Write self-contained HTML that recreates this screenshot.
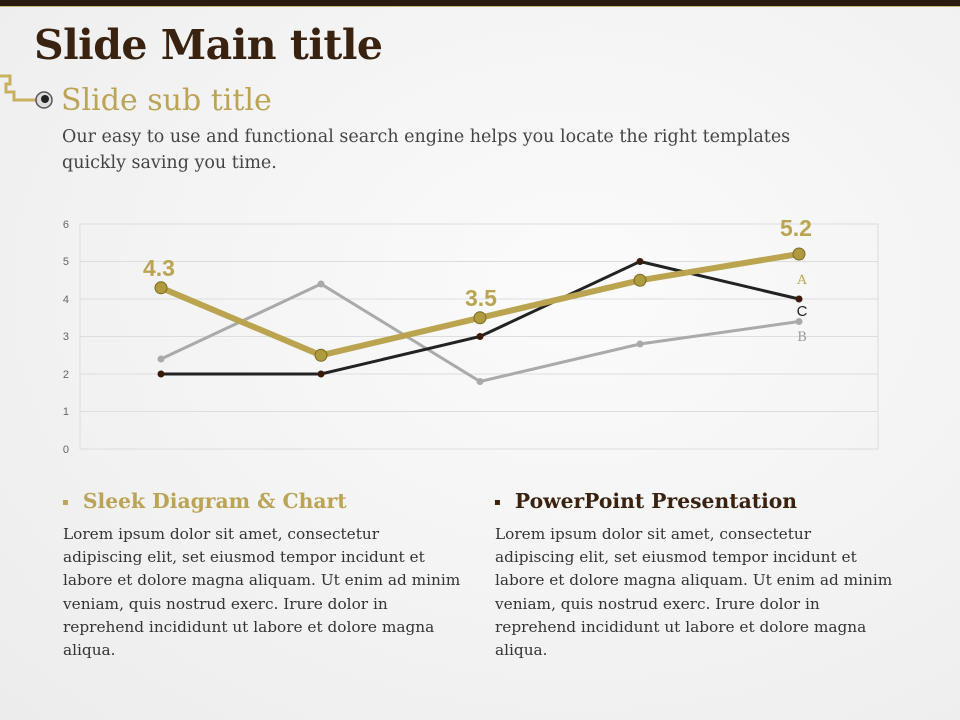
<!DOCTYPE html>
<html><head><meta charset="utf-8"><style>
body{margin:0;width:960px;height:720px;overflow:hidden;background:radial-gradient(ellipse at 60% 40%,#fbfbfb,#ececec);font-family:"DejaVu Serif","Liberation Serif",serif;position:relative}
.top{position:absolute;left:0;top:0;width:960px;height:6px;background:#2a1a10;border-bottom:1px solid #c8b878}
.t{position:absolute;left:34px;top:21px;font-size:41px;font-weight:bold;color:#3a2210;letter-spacing:-0.5px;white-space:nowrap}
.st{position:absolute;left:61px;top:83px;font-size:30px;color:#bba455;white-space:nowrap}
.d{position:absolute;left:62px;top:124px;font-size:17.5px;line-height:26px;color:#444;width:730px}
.h{position:absolute;top:489px;font-size:20.3px;font-weight:bold;white-space:nowrap}
.p{position:absolute;top:523px;font-size:15.3px;line-height:23.2px;color:#333;width:400px}
</style></head><body>
<div class="top"></div>
<div class="t">Slide Main title</div>
<svg style="position:absolute;left:0;top:70px" width="60" height="40"><path d="M0 6H10V14H6V22H14V30H36" fill="none" stroke="#c8b060" stroke-width="3"/><circle cx="44" cy="30" r="8" fill="#ddd" stroke="#555" stroke-width="1.5"/><circle cx="45" cy="29" r="4" fill="#222"/></svg>
<div class="st">Slide sub title</div>
<div class="d">Our easy to use and functional search engine helps you locate the right templates quickly saving you time.</div>
<svg style="position:absolute;left:0;top:0" width="960" height="470" font-family="Liberation Sans,sans-serif">
<rect x="80" y="224" width="798" height="225" fill="none" stroke="#ddd"/>
<g stroke="#ddd"><line x1="80" x2="878" y1="261.5" y2="261.5"/><line x1="80" x2="878" y1="299" y2="299"/><line x1="80" x2="878" y1="336.5" y2="336.5"/><line x1="80" x2="878" y1="374" y2="374"/><line x1="80" x2="878" y1="411.5" y2="411.5"/></g>
<g font-size="11" fill="#666" text-anchor="end"><text x="69" y="228">6</text><text x="69" y="265">5</text><text x="69" y="303">4</text><text x="69" y="340">3</text><text x="69" y="378">2</text><text x="69" y="415">1</text><text x="69" y="453">0</text></g>
<polyline points="161,359 321,284 480,381.5 640,344 799,321.5" fill="none" stroke="#aaa" stroke-width="3"/>
<g fill="#aaa"><circle cx="161" cy="359" r="3.5"/><circle cx="321" cy="284" r="3.5"/><circle cx="480" cy="381.5" r="3.5"/><circle cx="640" cy="344" r="3.5"/><circle cx="799" cy="321.5" r="3.5"/></g>
<polyline points="161,374 321,374 480,336.5 640,261.5 799,299" fill="none" stroke="#222" stroke-width="3"/>
<g fill="#3a1a0a"><circle cx="161" cy="374" r="3.5"/><circle cx="321" cy="374" r="3.5"/><circle cx="480" cy="336.5" r="3.5"/><circle cx="640" cy="261.5" r="3.5"/><circle cx="799" cy="299" r="3.5"/></g>
<polyline points="161,287.8 321,355.3 480,317.8 640,280.3 799,254" fill="none" stroke="#bba450" stroke-width="6"/>
<g fill="#b09a40" stroke="#7a6a20"><circle cx="161" cy="287.8" r="6"/><circle cx="321" cy="355.3" r="6"/><circle cx="480" cy="317.8" r="6"/><circle cx="640" cy="280.3" r="6"/><circle cx="799" cy="254" r="6"/></g>
<g font-size="23" font-weight="bold" fill="#bba450" text-anchor="middle"><text x="159" y="276">4.3</text><text x="481" y="306">3.5</text><text x="796" y="236">5.2</text></g>
<g font-family="DejaVu Serif,serif" font-size="13" text-anchor="middle"><text x="802" y="284" fill="#bba450">A</text><text x="802" y="316" fill="#222" font-family="Liberation Sans,sans-serif" font-size="15">C</text><text x="802" y="341" fill="#999">B</text></g>
</svg>
<div class="h" style="left:62px;color:#bba455"><span style="font-size:10px;vertical-align:middle">▪</span>&nbsp; Sleek Diagram &amp; Chart</div>
<div class="h" style="left:494px;color:#3a2210"><span style="font-size:10px;vertical-align:middle">▪</span>&nbsp; PowerPoint Presentation</div>
<div class="p" style="left:63px">Lorem ipsum dolor sit amet, consectetur adipiscing elit, set eiusmod tempor incidunt et labore et dolore magna aliquam. Ut enim ad minim veniam, quis nostrud exerc. Irure dolor in reprehend incididunt ut labore et dolore magna aliqua.</div>
<div class="p" style="left:495px">Lorem ipsum dolor sit amet, consectetur adipiscing elit, set eiusmod tempor incidunt et labore et dolore magna aliquam. Ut enim ad minim veniam, quis nostrud exerc. Irure dolor in reprehend incididunt ut labore et dolore magna aliqua.</div>
</body></html>
